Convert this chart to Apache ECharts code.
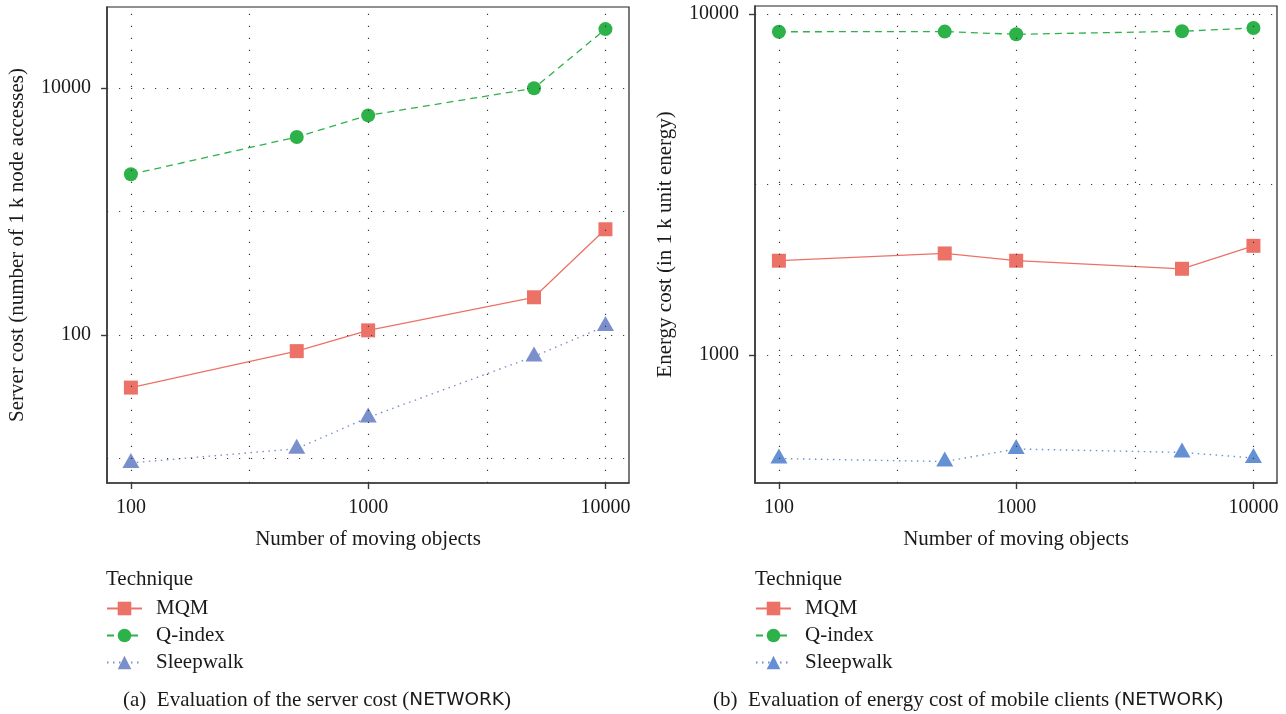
<!DOCTYPE html>
<html>
<head>
<meta charset="utf-8">
<title>Server and energy cost (NETWORK)</title>
<script src="https://cdn.jsdelivr.net/npm/echarts@6/dist/echarts.min.js"></script>
<style>
  html, body { margin: 0; padding: 0; background: #fff; }
  #chart { width: 1286px; height: 714px; }
</style>
</head>
<body>
<div id="chart"></div>
<script>
// Number of moving objects (x positions)
const objectCounts = [100, 500, 1000, 5000, 10000];

// (a) server cost, in 1 k node accesses
const serverMQM = [37.5, 74, 109, 202, 718];
const serverQindex = [2000, 4010, 6000, 9950, 30000];
const serverSleepwalk = [9.2, 12, 21.5, 67, 118];

// (b) energy cost of mobile clients, in 1 k unit energy
const energyMQM = [1890, 1985, 1890, 1790, 2090];
const energyQindex = [8870, 8880, 8720, 8900, 9100];
const energySleepwalk = [497, 487, 530, 518, 499];

// labelled ticks and dotted reference lines
const xTickLabels = [100, 1000, 10000];
const xGridValues = [100, 316.2, 1000, 3162, 10000];
const serverTickLabels = [100, 10000];
const serverGridValues = [10, 100, 1000, 10000];
const energyTickLabels = [1000, 10000];
const energyGridValues = [1000, 3162, 10000];

const SERIF = '"Liberation Serif", "DejaVu Serif", serif';
const SANS = '"DejaVu Sans", "Liberation Sans", sans-serif';
const INK = '#1a1a1a';
const RED = '#EC7268';
const GREEN = '#2DB24A';
const BLUE_A = '#7B8FCC';
const BLUE_B = '#6690D4';

const chart = echarts.init(document.getElementById('chart'), null, { renderer: 'canvas' });

function pairs(ys) {
  return objectCounts.map((x, i) => [x, ys[i]]);
}

function xAxisFor(gridIndex) {
  return {
    type: 'log', logBase: 10, gridIndex,
    min: 79.3, max: 12570,
    name: 'Number of moving objects',
    nameLocation: 'middle', nameGap: 46,
    nameTextStyle: { fontFamily: SERIF, fontSize: 21, color: INK },
    axisLine: { show: true, lineStyle: { color: '#3a3a3a', width: 1.6 } },
    axisTick: { show: true, customValues: xTickLabels, length: 6, lineStyle: { color: '#3a3a3a', width: 1.4 } },
    axisLabel: { customValues: xTickLabels, margin: 15, fontFamily: SERIF, fontSize: 20, color: INK,
                 formatter: v => String(Math.round(v)) },
    splitLine: { show: false },
    minorTick: { show: false }
  };
}

function yAxisFor(gridIndex, min, max, labels, title) {
  return {
    type: 'log', logBase: 10, gridIndex,
    min, max,
    name: title,
    nameLocation: 'middle', nameGap: 79, nameRotate: 90,
    nameTextStyle: { fontFamily: SERIF, fontSize: 21, color: INK },
    axisLine: { show: true, lineStyle: { color: '#3a3a3a', width: 1.6 } },
    axisTick: { show: true, customValues: labels, length: 6, lineStyle: { color: '#3a3a3a', width: 1.4 } },
    axisLabel: { customValues: labels, margin: 16, fontFamily: SERIF, fontSize: 20, color: INK,
                 formatter: v => String(Math.round(v)) },
    splitLine: { show: false }
  };
}

function gridLines(axisIndex, xs, ys) {
  return {
    type: 'line', name: 'grid-' + axisIndex,
    xAxisIndex: axisIndex, yAxisIndex: axisIndex,
    data: [], z: 1, silent: true,
    markLine: {
      silent: true, symbol: 'none', animation: false,
      label: { show: false },
      lineStyle: { color: '#3a3a3a', width: 1.2, type: [1.2, 10.8] },
      emphasis: { disabled: true },
      data: xs.map(v => ({ xAxis: v })).concat(ys.map(v => ({ yAxis: v })))
    }
  };
}

function techniqueSeries(axisIndex, mqm, qidx, sleep, blue) {
  return [
    {
      name: 'MQM', type: 'line', xAxisIndex: axisIndex, yAxisIndex: axisIndex,
      data: pairs(mqm), z: 3,
      symbol: 'rect', symbolSize: 14,
      itemStyle: { color: RED },
      lineStyle: { color: RED, width: 1.3, type: 'solid' }
    },
    {
      name: 'Q-index', type: 'line', xAxisIndex: axisIndex, yAxisIndex: axisIndex,
      data: pairs(qidx), z: 3,
      symbol: 'circle', symbolSize: 14,
      itemStyle: { color: GREEN },
      lineStyle: { color: GREEN, width: 1.3, type: [7, 5] }
    },
    {
      name: 'Sleepwalk', type: 'line', xAxisIndex: axisIndex, yAxisIndex: axisIndex,
      data: pairs(sleep), z: 3,
      symbol: 'triangle', symbolSize: [17, 15], symbolOffset: [0, -2.5],
      itemStyle: { color: blue },
      lineStyle: { color: blue, width: 1.4, type: [1.5, 4.5] }
    }
  ];
}

function legendFor(left, blue) {
  return {
    orient: 'vertical', left, top: 598, padding: 0,
    itemWidth: 35, itemHeight: 17, itemGap: 6,
    selectedMode: false,
    textStyle: { fontFamily: SERIF, fontSize: 21, lineHeight: 18, color: INK, padding: [0, 0, 0, 9] },
    data: [
      { name: 'MQM', itemStyle: { color: RED }, lineStyle: { color: RED } },
      { name: 'Q-index', itemStyle: { color: GREEN }, lineStyle: { color: GREEN } },
      { name: 'Sleepwalk', itemStyle: { color: blue }, lineStyle: { color: blue } }
    ]
  };
}

function caption(x, tag, text) {
  return {
    type: 'text', left: x, top: 690,
    style: {
      text: '{s|' + tag + '  ' + text + ' (}{n|NETWORK}{s|)}',
      rich: {
        s: { fontFamily: SERIF, fontSize: 21, fill: INK },
        n: { fontFamily: SANS, fontSize: 18.5, fill: INK }
      }
    }
  };
}

function legendTitle(x) {
  return {
    type: 'text', left: x, top: 569,
    style: { text: 'Technique', fontFamily: SERIF, fontSize: 21, fill: INK }
  };
}

const option = {
  backgroundColor: '#ffffff',
  animation: false,
  grid: [
    { left: 107, top: 7, width: 522, height: 476, show: true, borderColor: '#222', borderWidth: 1.2, containLabel: false },
    { left: 755, top: 6, width: 522, height: 477, show: true, borderColor: '#222', borderWidth: 1.2, containLabel: false }
  ],
  xAxis: [xAxisFor(0), xAxisFor(1)],
  yAxis: [
    yAxisFor(0, 6.33, 45290, serverTickLabels, 'Server cost (number of 1 k node accesses)'),
    yAxisFor(1, 421.3, 10556, energyTickLabels, 'Energy cost (in 1 k unit energy)')
  ],
  legend: [legendFor(106, BLUE_A), legendFor(755, BLUE_B)],
  graphic: [
    legendTitle(106), legendTitle(755),
    caption(123, '(a)', 'Evaluation of the server cost'),
    caption(713, '(b)', 'Evaluation of energy cost of mobile clients')
  ],
  series: [
    gridLines(0, xGridValues, serverGridValues),
    gridLines(1, xGridValues, energyGridValues)
  ].concat(
    techniqueSeries(0, serverMQM, serverQindex, serverSleepwalk, BLUE_A),
    techniqueSeries(1, energyMQM, energyQindex, energySleepwalk, BLUE_B)
  )
};

chart.setOption(option);
</script>
</body>
</html>
